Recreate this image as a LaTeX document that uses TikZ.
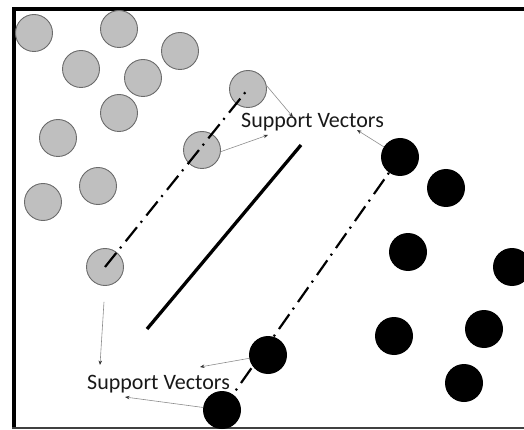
\documentclass[tikz,border=0pt]{standalone}
\usepackage{fontspec}
\setmainfont{Carlito}
\usetikzlibrary{arrows.meta}
\tikzset{
  gdot/.style={circle, draw=black!58, line width=0.9pt, fill=black!25, minimum size=37pt, inner sep=0pt},
  bdot/.style={circle, fill=black, minimum size=38pt, inner sep=0pt},
  margin/.style={line width=2.2pt, dash pattern=on 18pt off 6pt on 2pt off 7pt, line cap=butt},
  arr/.style={draw=black!45, line width=0.6pt, -{Stealth[length=4.5pt,width=3.5pt,black!80]}},
  label/.style={font=\fontsize{22pt}{24pt}\selectfont, text=black!90, inner sep=0pt, anchor=base west}
}
\begin{document}
\begin{tikzpicture}[x=1pt,y=-1pt]
\useasboundingbox (0,0) rectangle (524,430);
% frame
\draw[line width=4pt] (524,9) -- (13.5,9) -- (13.5,428);
\draw[black!75, line width=1.2pt] (12,428) -- (524,428);
% gray class
\node[gdot] (g1) at (34,33) {};
\node[gdot] (g2) at (119,29) {};
\node[gdot] (g3) at (180,51) {};
\node[gdot] (g4) at (81,69) {};
\node[gdot] (g5) at (143,78) {};
\node[gdot] (g6) at (119,113) {};
\node[gdot] (g7) at (248,89) {};
\node[gdot] (g8) at (58,138) {};
\node[gdot] (g9) at (202,150) {};
\node[gdot] (g10) at (98,186) {};
\node[gdot] (g11) at (43,202) {};
\node[gdot] (g12) at (105,267) {};
% lower margin (behind black dots)
\draw[margin] (222,410) -- (400,157);
% black class
\node[bdot] (b1) at (400,157) {};
\node[bdot] (b2) at (446,188) {};
\node[bdot] (b3) at (408,252) {};
\node[bdot] (b4) at (512,267) {};
\node[bdot] (b5) at (394,336) {};
\node[bdot] (b6) at (484,329) {};
\node[bdot] (b7) at (464,383) {};
\node[bdot] (b8) at (268,355) {};
\node[bdot] (b9) at (222,410) {};
% upper margin
\draw[margin] (g12.center) -- (g7.center);
% separating hyperplane
\coordinate (h1) at (147,329);
\coordinate (h2) at (301,145);
\draw[line width=3.3pt] (h1) -- (h2);
% labels
\node[label] (s1) at (241,128) {Support Vectors};
\node[label] (s2) at (87,389) {Support Vectors};
% arrow tips
\coordinate (t1) at (293,117);
\coordinate (t2) at (268,135);
\coordinate (t3) at (357,130);
\coordinate (t4) at (100,365);
\coordinate (t5) at (200,367);
\coordinate (t6) at (125,397);
\draw[arr] (g7.10) -- (t1);
\draw[arr] (g9.-5) -- (t2);
\draw[arr] (b1) -- (t3);
\draw[arr, shorten <=16pt] (g12.south) -- (t4);
\draw[arr] (b8) -- (t5);
\draw[arr] (b9) -- (t6);
\end{tikzpicture}
\end{document}
